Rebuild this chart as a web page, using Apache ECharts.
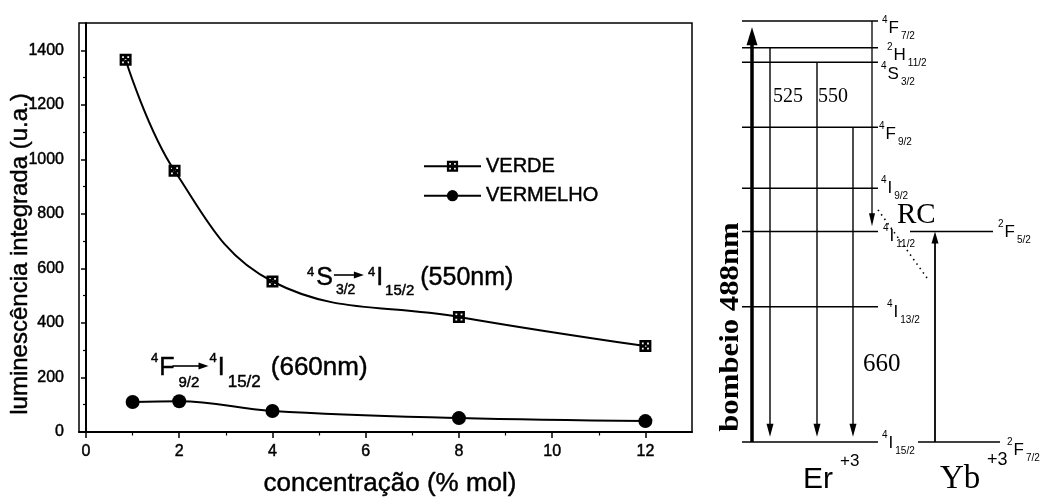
<!DOCTYPE html>
<html><head><meta charset="utf-8">
<script src="https://cdn.jsdelivr.net/npm/echarts@6/dist/echarts.min.js"></script>
<style>html,body{margin:0;padding:0;background:#fff}#c{width:1049px;height:497px}</style>
</head><body><div id="c"></div>
<script>
// ---------------- DATA ----------------
const seriesNames = ['VERDE', 'VERMELHO'];
const concVerde = [0.85, 1.9, 4, 8, 12];
const verde = [1365, 958, 552, 422, 315];
const concVermelho = [1, 2, 4, 8, 12];
const vermelho = [110, 113, 77, 51, 40];
const xTicks = [0, 2, 4, 6, 8, 10, 12];
const xMinorTicks = [1, 3, 5, 7, 9, 11];
const yTicks = [0, 200, 400, 600, 800, 1000, 1200, 1400];
const yMinorTicks = [100, 300, 500, 700, 900, 1100, 1300];
const xTitle = 'concentração (% mol)';
const yTitle = 'luminescência integrada (u.a.)';

// energy levels (cm-1)
const erLevelNames = ['4I15/2', '4I13/2', '4I11/2', '4I9/2', '4F9/2', '4S3/2', '2H11/2', '4F7/2'];
const erLevelEnergy = [0, 6550, 10200, 12300, 15250, 18400, 19100, 20400];
const ybLevelNames = ['2F7/2', '2F5/2'];
const ybLevelEnergy = [0, 10200];
const emissionLabels = ['525', '550', '660'];
const emissionFrom = ['2H11/2', '4S3/2', '4F9/2'];
const pumpLabel = 'bombeio 488nm';

// ---------------- LAYOUT ----------------
const FONT = "'Liberation Sans', Arial, sans-serif";
const SERIF = "'Liberation Serif', 'Times New Roman', serif";
const BW = 0.45; // text thickening to mimic the scanned print
const erSpan = [0, 136], ybSpan = { '2F5/2': [168, 251], '2F7/2': [176, 258] };
const labelX = { '4F7/2': 140, '2H11/2': 145, '4S3/2': 139, '4F9/2': 137, '4I9/2': 139, '4I11/2': 141, '4I13/2': 145, '4I15/2': 140, '2F5/2': 256, '2F7/2': 265 };
const labelDy = { '4F7/2': 7, '2H11/2': 7, '4S3/2': 12, '4F9/2': 7, '4I9/2': 0, '4I11/2': 5, '4I13/2': 5, '4I15/2': 1, '2F5/2': 1, '2F7/2': 8 };
const pumpX = 10, emissionX = [28, 75, 111], relaxX = 130, ybArrowX = 193;
const emissionEnd = 250, pumpTop = 20100, relaxEnd = 10450;
const rcLine = [[136, 11250], [185, 7950]];

// ---------------- BUILD ----------------
const allLevels = {};
erLevelNames.forEach((n, i) => allLevels[n] = erLevelEnergy[i]);
const levelItems = [];
erLevelNames.forEach((n, i) => levelItems.push({ name: n, E: erLevelEnergy[i], span: erSpan }));
ybLevelNames.forEach((n, i) => levelItems.push({ name: n, E: ybLevelEnergy[i], span: ybSpan[n] }));

const arrowItems = [
  { x: pumpX, y0: 0, y1: pumpTop, w: 3.5, hw: 11, hl: 18 },
  ...emissionFrom.map((n, i) => ({ x: emissionX[i], y0: allLevels[n], y1: emissionEnd, w: 1.4, hw: 7, hl: 13 })),
  { x: relaxX, y0: allLevels['4F7/2'], y1: relaxEnd, w: 1.3, hw: 6, hl: 13 },
  { x: ybArrowX, y0: ybLevelEnergy[0], y1: ybLevelEnergy[1], w: 1.8, hw: 7, hl: 12 }
];

const mctx = document.createElement('canvas').getContext('2d');
function tw(t, sz, fam) { mctx.font = sz + 'px ' + fam; return mctx.measureText(t).width; }
function txt(t, sz, fam, extra) {
  return Object.assign({ text: t, fontSize: sz, fontFamily: fam, fill: '#000', align: 'left', verticalAlign: 'middle', stroke: '#000', lineWidth: BW }, extra || {});
}
function formula(x0, y0, parts, fam) {
  const els = []; let x = x0;
  parts.forEach(p => {
    if (p.arrow) {
      const y = y0 + (p.dy || 0);
      els.push({ type: 'line', shape: { x1: x, y1: y, x2: x + p.arrow - 6, y2: y }, style: { stroke: '#000', lineWidth: 1.6 } });
      els.push({ type: 'polygon', shape: { points: [[x + p.arrow, y], [x + p.arrow - 10, y - 3.5], [x + p.arrow - 10, y + 3.5]] }, style: { fill: '#000' } });
      x += p.arrow + (p.gap || 0);
    } else {
      els.push({ type: 'text', x: x + (p.dx || 0), y: y0 + (p.dy || 0), style: txt(p.t, p.sz, fam) });
      if (!p.keep) x += tw(p.t, p.sz, fam) + (p.gap || 0);
    }
  });
  return els;
}

const graphics = [];
// axis titles
graphics.push({ type: 'text', x: 390, y: 484, style: txt(xTitle, 26, FONT, { align: 'center' }) });
graphics.push({ type: 'text', x: 20, y: 254, rotation: Math.PI / 2, style: txt(yTitle, 24, FONT, { align: 'center' }) });
// transition annotations
graphics.push(...formula(307, 278, [
  { t: '4', sz: 13, dy: -6, gap: 2 }, { t: 'S', sz: 25, gap: 1 }, { t: '3/2', sz: 14, dy: 12, keep: true, dx: 2 },
  { arrow: 30, dy: -3, gap: 4 }, { t: '4', sz: 13, dy: -6, gap: 1 }, { t: 'I', sz: 25, gap: 2 },
  { t: '15/2', sz: 15, dy: 13, gap: 6 }, { t: '(550nm)', sz: 25 }
], FONT));
graphics.push(...formula(151, 368, [
  { t: '4', sz: 13, dy: -10, gap: 1 }, { t: 'F', sz: 25, gap: -2 }, { t: '9/2', sz: 15, dy: 15, keep: true, dx: 6 },
  { arrow: 36, dy: -2, gap: 1 }, { t: '4', sz: 13, dy: -10, gap: 1 }, { t: 'I', sz: 25, gap: 3 },
  { t: '15/2', sz: 17, dy: 14, gap: 10 }, { t: '(660nm)', sz: 26 }
], FONT));
// diagram texts
const noStroke = { lineWidth: 0, stroke: null };
graphics.push({ type: 'text', x: 773, y: 97, style: txt(emissionLabels[0], 20, SERIF, noStroke) });
graphics.push({ type: 'text', x: 818, y: 97, style: txt(emissionLabels[1], 20, SERIF, noStroke) });
graphics.push({ type: 'text', x: 863, y: 364, style: txt(emissionLabels[2], 25, SERIF, noStroke) });
graphics.push({ type: 'text', x: 897, y: 215, style: txt('RC', 29, SERIF, noStroke) });
graphics.push({ type: 'text', x: 731, y: 327, rotation: Math.PI / 2, scaleX: 1.14, style: txt(pumpLabel, 27, SERIF, Object.assign({ align: 'center', fontWeight: 'bold' }, noStroke)) });
graphics.push({ type: 'text', x: 803, y: 480, style: txt('Er', 30, FONT, noStroke) });
graphics.push({ type: 'text', x: 840, y: 461, style: txt('+3', 17, FONT, noStroke) });
graphics.push({ type: 'text', x: 940, y: 479, style: txt('Yb', 33, SERIF, noStroke) });
graphics.push({ type: 'text', x: 987, y: 460, style: txt('+3', 18, FONT, noStroke) });

const squareSym = 'path://M0,0H12V12H0Z M2.5,2.5V4.3H4.3V2.5Z M7.7,2.5V4.3H9.5V2.5Z M5.1,5.1V6.9H6.9V5.1Z M2.5,7.7V9.5H4.3V7.7Z M7.7,7.7V9.5H9.5V7.7Z';

const axisBase = { lineStyle: { color: '#000', width: 2 } };
const labelStyle = { color: '#000', fontSize: 16, fontFamily: FONT, textBorderColor: '#000', textBorderWidth: BW };
const option = {
  animation: false,
  backgroundColor: '#fff',
  grid: [
    { left: 79, right: 357, top: 23, bottom: 65, show: true, borderColor: '#000', borderWidth: 1.5, outerBoundsMode: 'none' },
    { left: 742, right: 49, top: 8.65, bottom: 34.36, outerBoundsMode: 'none' }
  ],
  legend: {
    data: seriesNames, orient: 'vertical', left: 418, top: 151, itemWidth: 57, itemHeight: 14, itemGap: 9,
    textStyle: { fontSize: 20, color: '#000', fontFamily: FONT, lineHeight: 20, textBorderColor: '#000', textBorderWidth: BW }
  },
  xAxis: [
    { type: 'value', gridIndex: 0, min: -0.15, max: 13, axisLine: axisBase, splitLine: { show: false },
      axisTick: { show: true, length: 6, lineStyle: { color: '#000', width: 1.5 }, customValues: xTicks },
      axisLabel: Object.assign({ margin: 12, customValues: xTicks, formatter: v => String(v) }, labelStyle) },
    { type: 'value', gridIndex: 0, min: -0.15, max: 13, position: 'bottom', axisLine: { show: false }, splitLine: { show: false },
      axisTick: { show: true, length: 3.5, lineStyle: { color: '#000', width: 1.2 }, customValues: xMinorTicks },
      axisLabel: { show: false } },
    { type: 'value', gridIndex: 1, min: 0, max: 258, show: false }
  ],
  yAxis: [
    { type: 'value', gridIndex: 0, min: 0, max: 1500, axisLine: axisBase, splitLine: { show: false },
      axisTick: { show: true, length: 5, lineStyle: { color: '#000', width: 1.5 }, customValues: yTicks },
      axisLabel: Object.assign({ margin: 15, customValues: yTicks, formatter: v => String(v) }, labelStyle) },
    { type: 'value', gridIndex: 0, min: 0, max: 1500, position: 'left', axisLine: { show: false }, splitLine: { show: false },
      axisTick: { show: true, length: 3, lineStyle: { color: '#000', width: 1.2 }, customValues: yMinorTicks },
      axisLabel: { show: false } },
    { type: 'value', gridIndex: 1, min: -1000, max: 21000, show: false }
  ],
  graphic: graphics,
  series: [
    { name: seriesNames[0], type: 'line', xAxisIndex: 0, yAxisIndex: 0, data: concVerde.map((x, i) => [x, verde[i]]),
      smooth: 0.4, symbol: squareSym, symbolSize: 12, lineStyle: { color: '#000', width: 2 }, itemStyle: { color: '#000' }, z: 3 },
    { name: seriesNames[1], type: 'line', xAxisIndex: 0, yAxisIndex: 0, data: concVermelho.map((x, i) => [x, vermelho[i]]),
      smooth: 0.4, symbol: 'circle', symbolSize: 14, lineStyle: { color: '#000', width: 2 }, itemStyle: { color: '#000' }, z: 3 },
    { type: 'custom', xAxisIndex: 2, yAxisIndex: 2, data: levelItems.map(d => [d.span[0], d.E, d.span[1]]), clip: false,
      renderItem: function (params, api) {
        const d = levelItems[params.dataIndex];
        const p1 = api.coord([api.value(0), api.value(1)]);
        const p2 = api.coord([api.value(2), api.value(1)]);
        const pl = api.coord([labelX[d.name], api.value(1)]);
        const sup = d.name[0], main = d.name[1], sub = d.name.slice(2);
        return { type: 'group', children: [
          { type: 'line', shape: { x1: p1[0], y1: p1[1], x2: p2[0], y2: p2[1] }, style: { stroke: '#000', lineWidth: 1.5 } },
          { type: 'text', x: pl[0], y: pl[1] + labelDy[d.name], style: {
              text: '{sup|' + sup + '}{m|' + main + '}{sub|' + sub + '}', align: 'left', verticalAlign: 'middle', fill: '#000',
              rich: {
                sup: { fontSize: 10, lineHeight: 10, verticalAlign: 'top', fontFamily: FONT, fill: '#000', padding: [0, 1, 0, 0] },
                m: { fontSize: 17, lineHeight: 26, verticalAlign: 'middle', fontFamily: FONT, fill: '#000' },
                sub: { fontSize: 10, lineHeight: 10, verticalAlign: 'bottom', fontFamily: FONT, fill: '#000', padding: [0, 0, 0, 2] }
              } } }
        ] };
      } },
    { type: 'custom', xAxisIndex: 2, yAxisIndex: 2, data: arrowItems.map(a => [a.x, a.y0, a.y1]), clip: false,
      renderItem: function (params, api) {
        const a = arrowItems[params.dataIndex];
        const p0 = api.coord([api.value(0), api.value(1)]);
        const p1 = api.coord([api.value(0), api.value(2)]);
        const dir = Math.sign(p1[1] - p0[1]);
        const baseY = p1[1] - dir * a.hl;
        return { type: 'group', children: [
          { type: 'line', shape: { x1: p0[0], y1: p0[1], x2: p1[0], y2: baseY + dir * 2 }, style: { stroke: '#000', lineWidth: a.w } },
          { type: 'polygon', shape: { points: [[p1[0], p1[1]], [p1[0] - a.hw / 2, baseY], [p1[0] + a.hw / 2, baseY]] }, style: { fill: '#000' } }
        ] };
      } },
    { type: 'line', xAxisIndex: 2, yAxisIndex: 2, data: rcLine, symbol: 'none', lineStyle: { color: '#000', width: 1.6, type: [1.5, 4] } }
  ]
};
const chart = echarts.init(document.getElementById('c'), null, { renderer: 'canvas' });
chart.setOption(option);
</script>
</body></html>
